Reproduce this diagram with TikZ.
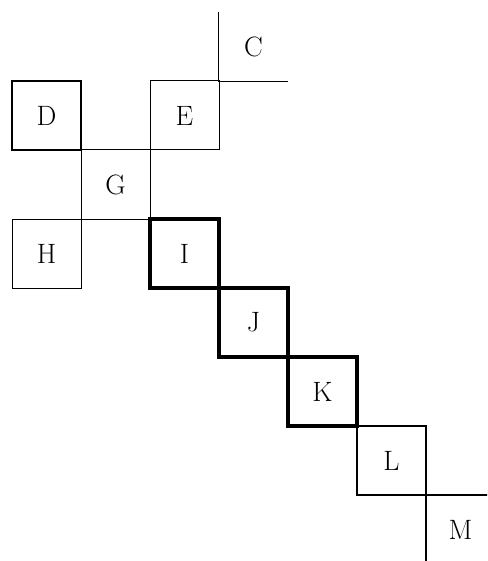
\documentclass[tikz,border=0pt]{standalone}
\begin{document}
\begin{tikzpicture}[x=1pt,y=-1pt,
  cell/.style={minimum size=69pt,inner sep=0pt,font=\fontsize{28}{32}\selectfont},
  thinbox/.style={cell,draw,line width=1pt},
  midbox/.style={cell,draw,line width=1.5pt},
  boldbox/.style={cell,draw,line width=2.3pt},
  heavybox/.style={cell,draw,line width=4pt},
  open/.style={cell},
  edge/.style={line width=1pt}]
\useasboundingbox (0,0) rectangle (487,561);
\clip (0,0) rectangle (487,561);
% thin cells
\node[thinbox] (E) at (184.5,115.5) {E};
\node[thinbox] (G) at (115.5,184.5) {G};
\node[thinbox] (H) at (46.5,253.5) {H};
\node[midbox]  (L) at (391.5,460.5) {L};
% cells with only two sides drawn
\node[open] (C) at (253.5,46.5) {C};
\node[open] (M) at (460.5,529.5) {M};
\draw[edge] (C.north west) -- (C.south west) -- (C.south east);
\draw[line width=1.5pt] (M.south west) -- (M.north west) -- (M.north east);
% heavier cells
\node[boldbox]  (D) at (46.5,115.5) {D};
\node[heavybox] (I) at (184.5,253.5) {I};
\node[heavybox] (J) at (253.5,322.5) {J};
\node[heavybox] (K) at (322.5,391.5) {K};
\end{tikzpicture}
\end{document}
